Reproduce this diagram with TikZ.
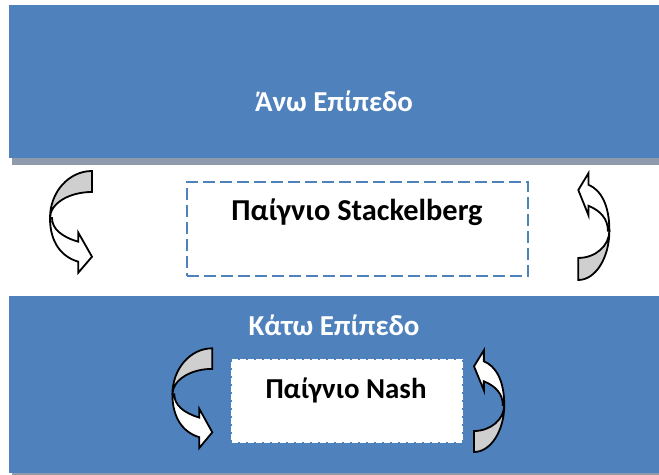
\documentclass[tikz,border=0pt]{standalone}
\usepackage{fontspec}
\setmainfont{Carlito}
\usetikzlibrary{shadows}

\definecolor{levelblue}{HTML}{4F81BD}
\definecolor{shadowgray}{HTML}{8F9BAD}
\definecolor{backgray}{HTML}{CFCFCF}

\tikzset{
  level/.style={fill=levelblue, inner sep=0pt, minimum width=650bp},
  leveltext/.style={text=white, font=\bfseries\fontsize{29}{33}\selectfont, anchor=base},
  gametext/.style={font=\bfseries\fontsize{29}{33}\selectfont, anchor=base},
  gamebox/.style={inner sep=0pt, line width=2.4bp, dash pattern=on 12bp off 5bp},
  turn/.pic={
    % back of the ribbon
    \draw[line width=1.8bp, fill=backgray] (0,0)
      arc[start angle=270, end angle=180, x radius=42, y radius=47]
      arc[start angle=180, end angle=270, x radius=42, y radius=26] -- cycle;
    % front of the ribbon and its head
    \draw[line width=1.8bp, fill=white] (-42,47)
      .. controls (-42,72) and (-30,86) .. (-13.7,90.7)
      -- (-13.7,101.7) -- (0,85.7) -- (-13.7,61.7) -- (-13.7,70.7)
      .. controls (-30,66) and (-40,58) .. (-40,47) -- cycle;
  }
}

\begin{document}
\begin{tikzpicture}[x=1bp,y=-1bp]
\useasboundingbox (0,0) rectangle (659,475);

% the two levels
\node (upper) [level, minimum height=153bp,
  drop shadow={shadow xshift=3bp, shadow yshift=-7bp, fill=shadowgray, opacity=1}]
  at (334,81.5) {};
\node (lower) [level, minimum height=177bp,
  drop shadow={shadow xshift=3bp, shadow yshift=-2bp, fill=shadowgray, opacity=1}]
  at (334,384.5) {};
\node (uppertitle) [leveltext] at (334,112) {Άνω Επίπεδο};
\node (lowertitle) [leveltext] at (334,335) {Κάτω Επίπεδο};

% games
\node (stackbox) [gamebox, draw=levelblue, minimum width=341bp, minimum height=94bp]
  at (357.5,229) {};
\node (stack) [gametext, font=\bfseries\fontsize{30.5}{34}\selectfont] at (357,221)
  {Παίγνιο Stackelberg};
\node (nashbox) [gamebox, draw=white, fill=white, minimum width=230bp, minimum height=82bp,
  line width=1.5bp, dash pattern=on 6bp off 2bp] at (347,401) {};
\node (nash) [gametext] at (346,398.3) {Παίγνιο Nash};

% turning arrows
\pic at (92,171) {turn};
\pic[xscale=-0.74, yscale=-1.05] at (578.3,280) {turn};
\pic[xscale=0.95, yscale=0.98] at (212.3,348.3) {turn};
\pic[xscale=-0.72, yscale=-1] at (474,452) {turn};
\end{tikzpicture}
\end{document}
